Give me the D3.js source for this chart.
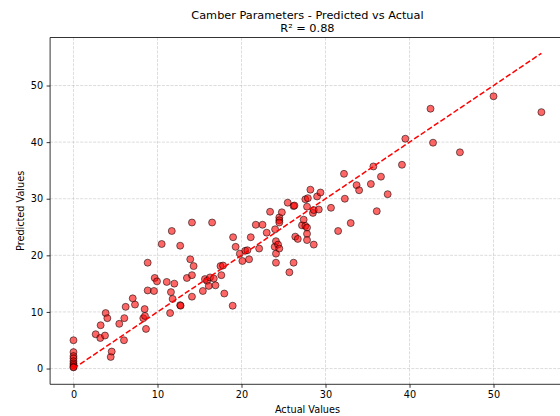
<!DOCTYPE html>
<html>
<head>
<meta charset="utf-8">
<script src="https://cdn.jsdelivr.net/npm/d3@7"></script>
<style>
  html, body { margin: 0; padding: 0; background: #fff; }
  svg { display: block; font-family: "DejaVu Sans", sans-serif; }
</style>
</head>
<body>
<svg id="chart" width="560" height="416"></svg>
<script>
// Actual vs predicted camber values (one entry per sample)
const actual = [
  0, 0, 0, 0, 0, 0, 0, 0, 0,
  2.64, 3.19, 3.23, 3.75, 3.83, 4.03, 4.43, 4.55, 5.45, 6.01,
  6.05, 6.21, 7.05, 7.32, 8.31, 8.47, 8.51, 8.63, 8.83, 8.83,
  9.58, 9.67, 9.94, 10.5, 11.1, 11.5, 11.6, 11.7, 11.8, 12.0,
  12.7, 12.75, 12.7, 13.5, 13.9, 14.1, 14.1, 14.1, 14.3, 15.4,
  15.65, 15.9, 16.1, 16.25, 16.5, 16.7, 16.9, 17.5, 17.8, 17.6,
  17.95, 18.95, 19.0, 19.3, 19.8, 20.1, 20.45, 20.7, 20.9, 21.1,
  21.7, 22.1, 22.5, 23.0, 23.4, 23.95, 24.0, 24.1, 24.1, 24.1,
  24.35, 24.5, 24.5, 24.5, 24.5, 24.8, 25.5, 25.7, 26.2, 26.3,
  26.2, 26.4, 26.7, 27.2, 27.4, 27.6, 27.6, 27.8, 27.8, 27.8,
  27.8, 27.9, 28.2, 28.5, 28.6, 28.6, 29.0, 29.2, 29.4, 30.65,
  31.5, 32.2, 32.3, 33.0, 33.7, 34.0, 35.4, 35.7, 36.1, 36.6,
  37.4, 39.1, 39.5, 42.5, 42.8, 46.0, 50.0, 55.7
];
const predicted = [
  5.0, 2.9, 2.2, 1.8, 1.3, 0.9, 0.6, 0.3, 0.2,
  6.06, 5.4, 7.65, 5.83, 9.8, 8.9, 2.05, 3.0, 7.9, 5.0,
  8.9, 10.9, 12.4, 11.3, 8.9, 10.5, 9.3, 7.0, 13.8, 18.7,
  13.7, 16.0, 15.4, 22.0, 15.3, 9.8, 13.5, 24.3, 12.3, 15.0,
  11.2, 11.1, 21.7, 16.0, 19.3, 16.5, 12.7, 25.8, 18.1, 13.7,
  15.8, 15.5, 14.6, 16.1, 25.8, 15.9, 14.7, 18.1, 18.2, 16.5,
  13.25, 11.1, 23.2, 21.5, 20.3, 19.0, 20.8, 20.9, 19.3, 23.2,
  25.4, 21.2, 25.4, 24.0, 27.7, 21.5, 24.6, 22.5, 20.3, 18.7,
  21.9, 21.2, 26.7, 26.2, 25.8, 27.6, 29.3, 17.0, 28.7, 28.8,
  18.7, 23.3, 22.9, 25.3, 26.3, 25.2, 29.9, 24.9, 23.8, 22.7,
  28.6, 30.1, 31.6, 27.5, 28.0, 21.9, 30.4, 28.1, 31.1, 28.4,
  24.3, 34.4, 30.0, 25.7, 32.4, 31.5, 32.6, 35.7, 27.8, 33.9,
  30.8, 36.0, 40.6, 45.9, 39.9, 38.2, 48.1, 45.3
];
const tickValues = [0, 10, 20, 30, 40, 50];
const titleLines = ["Camber Parameters - Predicted vs Actual", "R\u00b2 = 0.88"];
const xLabel = "Actual Values";
const yLabel = "Predicted Values";

const points = actual.map((a, i) => ({ a, p: predicted[i] }));

// Perfect-prediction reference line spans 0 .. largest value
const maxVal = Math.max(d3.max(actual), d3.max(predicted));
const pad = maxVal * 0.05;
const domain = [-pad, maxVal + pad];

const plot = { left: 50.1, right: 564.8, top: 37.5, bottom: 384.3 };

const x = d3.scaleLinear().domain(domain).range([plot.left, plot.right]);
const y = d3.scaleLinear().domain(domain).range([plot.bottom, plot.top]);

const svg = d3.select("#chart");

// Grid
const grid = svg.append("g").attr("class", "grid");
grid.selectAll("line.gx").data(tickValues).join("line")
  .attr("x1", d => x(d)).attr("x2", d => x(d))
  .attr("y1", plot.top).attr("y2", plot.bottom)
  .attr("stroke", "#b0b0b0").attr("stroke-opacity", 0.55)
  .attr("stroke-width", 0.8).attr("stroke-dasharray", "3,1.3");
grid.selectAll("line.gy").data(tickValues).join("line")
  .attr("y1", d => y(d)).attr("y2", d => y(d))
  .attr("x1", plot.left).attr("x2", plot.right)
  .attr("stroke", "#b0b0b0").attr("stroke-opacity", 0.55)
  .attr("stroke-width", 0.8).attr("stroke-dasharray", "3,1.3");

// Scatter points
svg.append("g").selectAll("circle").data(points).join("circle")
  .attr("cx", d => x(d.a))
  .attr("cy", d => y(d.p))
  .attr("r", 3.5)
  .attr("fill", "red").attr("fill-opacity", 0.6)
  .attr("stroke", "black").attr("stroke-opacity", 0.6)
  .attr("stroke-width", 0.9);

// Diagonal y = x
svg.append("line")
  .attr("x1", x(0)).attr("y1", y(0))
  .attr("x2", x(maxVal)).attr("y2", y(maxVal))
  .attr("stroke", "red").attr("stroke-width", 1.5)
  .attr("stroke-dasharray", "5.5,2.4");

// Axes
const xAxis = d3.axisBottom(x).tickValues(tickValues).tickSize(3.5).tickPadding(3.5);
const yAxis = d3.axisLeft(y).tickValues(tickValues).tickSize(3.5).tickPadding(3.5);

const gx = svg.append("g").attr("transform", `translate(0,${plot.bottom})`).call(xAxis);
const gy = svg.append("g").attr("transform", `translate(${plot.left},0)`).call(yAxis);
[gx, gy].forEach(g => {
  g.select(".domain").remove();
  g.selectAll(".tick line").attr("stroke", "#000").attr("stroke-width", 0.8);
  g.selectAll(".tick text").attr("fill", "#000")
    .style("font-family", "DejaVu Sans").style("font-size", "9.7px");
});

// Spines
const spine = svg.append("g").attr("fill", "none").attr("stroke", "#000").attr("stroke-width", 0.8);
spine.append("line").attr("x1", plot.left).attr("x2", plot.left).attr("y1", plot.top).attr("y2", plot.bottom);
spine.append("line").attr("x1", plot.left).attr("x2", plot.right).attr("y1", plot.bottom).attr("y2", plot.bottom);
spine.append("line").attr("x1", plot.left).attr("x2", plot.right).attr("y1", plot.top).attr("y2", plot.top);
spine.append("line").attr("x1", plot.right).attr("x2", plot.right).attr("y1", plot.top).attr("y2", plot.bottom);

// Two-line title
const cx = (plot.left + plot.right) / 2;
titleLines.forEach((line, i) => {
  svg.append("text").attr("x", cx).attr("y", 18.5 + i * 13.2)
    .attr("text-anchor", "middle").style("font-size", "11.3px").text(line);
});

svg.append("text").attr("x", cx).attr("y", 413)
  .attr("text-anchor", "middle").style("font-size", "9.7px").text(xLabel);
svg.append("text")
  .attr("transform", `translate(23.5,${(plot.top + plot.bottom) / 2}) rotate(-90)`)
  .attr("text-anchor", "middle").style("font-size", "9.7px").text(yLabel);
</script>
</body>
</html>
